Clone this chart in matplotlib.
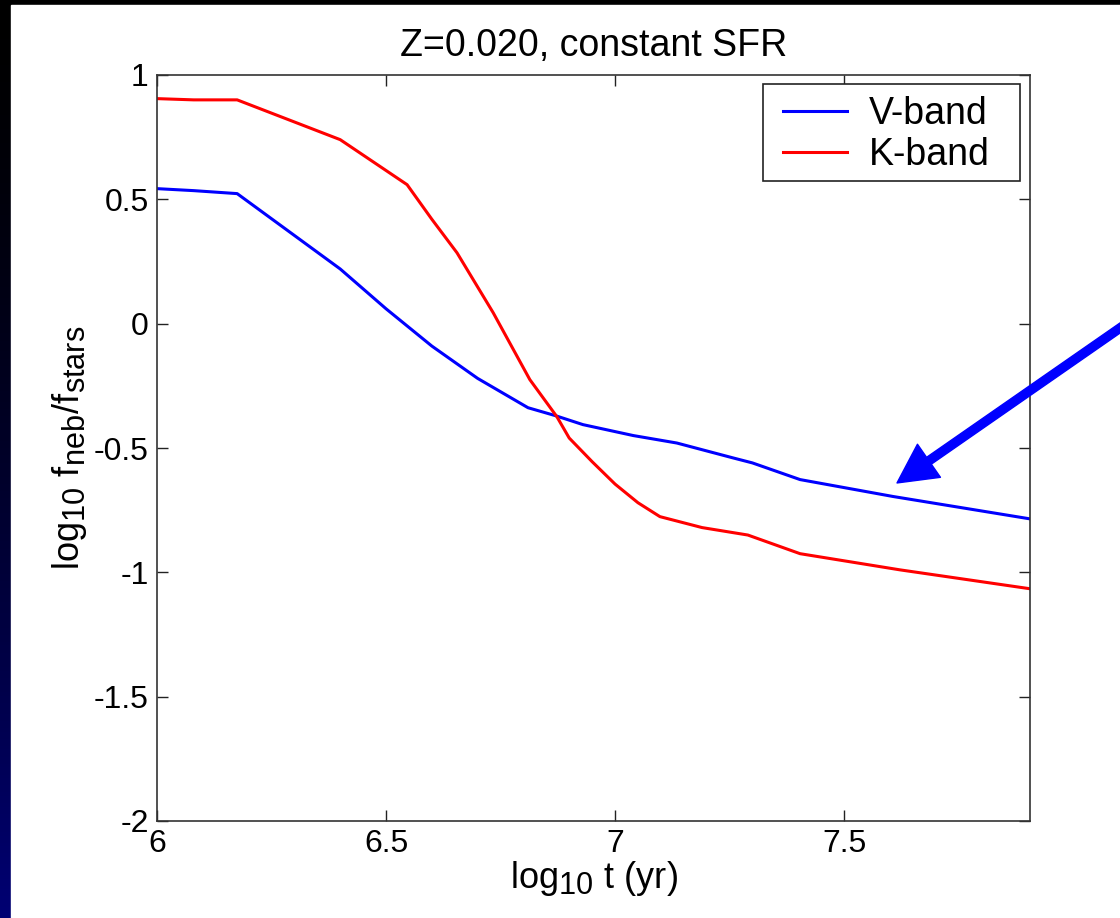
import numpy as np
import matplotlib
matplotlib.use('Agg')
import matplotlib.pyplot as plt
from matplotlib.patches import Rectangle, FancyArrowPatch

# subscritos quase do tamanho do texto (estilo MATLAB)
try:
    import matplotlib._mathtext as _mt
    _mt.SHRINK_FACTOR = 0.85
except Exception:
    pass

# Dados
t_v = [6.0, 6.08, 6.175, 6.4, 6.5, 6.6, 6.7, 6.81, 6.87, 6.93, 7.04, 7.135,
       7.258, 7.3, 7.404, 7.607, 7.906]
v_band = [0.543, 0.535, 0.523, 0.22, 0.06, -0.09, -0.22, -0.338, -0.37, -0.406,
          -0.45, -0.48, -0.54, -0.56, -0.627, -0.695, -0.785]

t_k = [6.0, 6.08, 6.175, 6.4, 6.546, 6.6, 6.655, 6.734, 6.814, 6.873, 6.9,
       6.95, 7.0, 7.05, 7.098, 7.19, 7.29, 7.404, 7.622, 7.906]
k_band = [0.905, 0.90, 0.90, 0.74, 0.559, 0.42, 0.285, 0.044, -0.225, -0.374,
          -0.46, -0.555, -0.645, -0.72, -0.776, -0.82, -0.85, -0.925, -0.99, -1.066]

rotulos = ['V-band', 'K-band']
cores = ['#0000ff', '#ff0000']
titulo = 'Z=0.020, constant SFR'
xticks = [6, 6.5, 7, 7.5]
yticks = [-2, -1.5, -1, -0.5, 0, 0.5, 1]

plt.rcParams['font.family'] = ['Liberation Sans', 'DejaVu Sans']
plt.rcParams['mathtext.default'] = 'regular'

fig = plt.figure(figsize=(11.2, 9.18), dpi=100)
fig.patch.set_facecolor('black')

# Fundo do slide: faixa escura com gradiente e painel branco
bg = fig.add_axes([0, 0, 1, 1], zorder=-1)
grad = np.linspace(0, 1, 256).reshape(-1, 1)
bg.imshow(np.dstack([np.zeros_like(grad), np.zeros_like(grad), 0.45 * grad ** 1.5]),
          extent=[0, 1, 0, 1], aspect='auto', origin='upper')
bg.add_patch(Rectangle((11 / 1120, 0), 1, 1 - 5 / 918, color='white', zorder=2))
bg.set_xlim(0, 1)
bg.set_ylim(0, 1)
bg.axis('off')

ax = fig.add_axes([157 / 1120, 1 - 821 / 918, 873 / 1120, 746 / 918])
ax.plot(t_v, v_band, color=cores[0], lw=2.2, label=rotulos[0])
ax.plot(t_k, k_band, color=cores[1], lw=2.2, label=rotulos[1])

ax.set_xlim(6, 7.906)
ax.set_ylim(-2, 1)
ax.set_xticks(xticks)
ax.set_xticklabels(['6', '6.5', '7', '7.5'])
ax.set_yticks(yticks)
ax.set_yticklabels(['-2', '-1.5', '-1', '-0.5', '0', '0.5', '1'])
ax.tick_params(direction='in', length=8, width=1, top=True, right=True,
               labelsize=23, pad=6, colors='#222222', labelcolor='black')
for s in ax.spines.values():
    s.set_color('#333333')
    s.set_linewidth(1.2)

ax.set_title(titulo, fontsize=27, pad=14)
ax.set_xlabel('log$_{10}$ t (yr)', fontsize=26, labelpad=0)
ax.set_ylabel('log$_{10}$ f$_{neb}$/f$_{stars}$', fontsize=26)
ax.yaxis.set_label_coords(-0.078, 0.5)

# Legenda com moldura estilo MATLAB (mais folga na horizontal)
caixa = Rectangle((0.6942, 0.8579), 0.2944, 0.13, transform=ax.transAxes,
                  facecolor='white', edgecolor='#222222', lw=1.2, zorder=5)
ax.add_patch(caixa)
leg = ax.legend(loc='upper left', fontsize=27, frameon=False,
                handlelength=1.7, handletextpad=0.6, borderpad=0,
                labelspacing=0.14, borderaxespad=0,
                bbox_to_anchor=(0.7171, 0.9719))
leg.set_zorder(6)

# Seta azul
seta = FancyArrowPatch((1.009, 0.6503), (0.8009, 0.4739), transform=fig.transFigure,
                       arrowstyle='simple,head_length=28,head_width=29,tail_width=6',
                       mutation_scale=1, color='#0000ff', shrinkA=0, shrinkB=0,
                       clip_on=False)
fig.add_artist(seta)

plt.savefig('out.png', dpi=100, facecolor=fig.get_facecolor())
